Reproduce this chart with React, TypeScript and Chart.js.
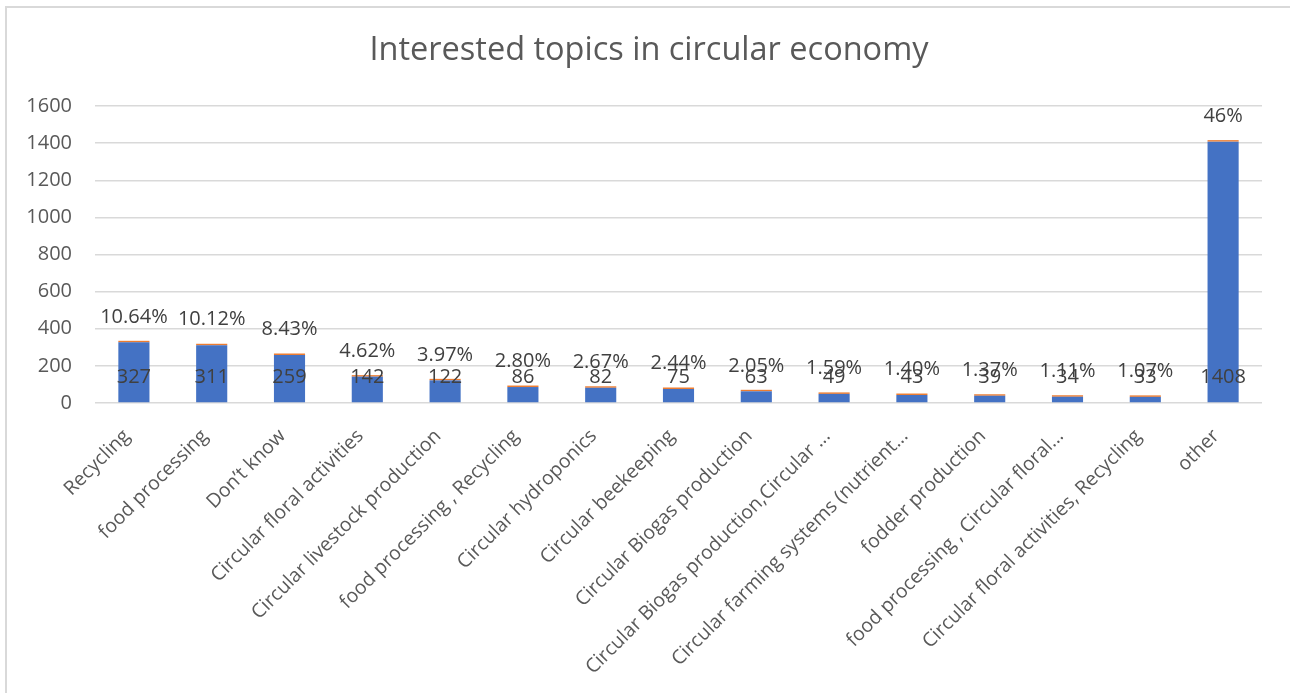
import React, { useEffect, useRef } from "react";
import { Chart, registerables } from "chart.js";

Chart.register(...registerables);

const chartTitle = "Interested topics in circular economy";

const categories = [
  "Recycling",
  "food processing",
  "Don’t know",
  "Circular floral activities",
  "Circular livestock production",
  "food processing , Recycling",
  "Circular hydroponics",
  "Circular beekeeping",
  "Circular Biogas production",
  "Circular Biogas production,Circular ...",
  "Circular farming systems (nutrient...",
  "fodder production",
  "food processing , Circular floral...",
  "Circular floral activities, Recycling",
  "other",
];

const counts = [327, 311, 259, 142, 122, 86, 82, 75, 63, 49, 43, 39, 34, 33, 1408];
const shares = [0.1064, 0.1012, 0.0843, 0.0462, 0.0397, 0.028, 0.0267, 0.0244, 0.0205, 0.0159, 0.014, 0.0137, 0.0111, 0.0107, 0.46];
const shareLabels = [
  "10.64%", "10.12%", "8.43%", "4.62%", "3.97%", "2.80%", "2.67%", "2.44%",
  "2.05%", "1.59%", "1.40%", "1.37%", "1.11%", "1.07%", "46%",
];
const yTicks = [0, 200, 400, 600, 800, 1000, 1200, 1400, 1600];

const FONT = "'Open Sans', 'Noto Sans', sans-serif";

const labelPlugin = {
  id: "barLabels",
  afterDatasetsDraw(chart: any) {
    const ctx = chart.ctx;
    const m0 = chart.getDatasetMeta(0);
    const m1 = chart.getDatasetMeta(1);
    ctx.save();
    ctx.font = `20px ${FONT}`;
    ctx.fillStyle = "#404040";
    ctx.textAlign = "center";
    ctx.textBaseline = "middle";
    m0.data.forEach((bar: any, i: number) => {
      ctx.fillText(String(counts[i]), bar.x, bar.base - 25);
    });
    m1.data.forEach((bar: any, i: number) => {
      ctx.fillText(shareLabels[i], bar.x, bar.y - 24);
    });
    // title
    ctx.font = `32.5px ${FONT}`;
    ctx.fillStyle = "#595959";
    ctx.textAlign = "center";
    ctx.textBaseline = "alphabetic";
    ctx.fillText(chartTitle, 643, 52);
    // category labels, rotated 45 degrees
    const xs = chart.scales.x;
    ctx.font = `19.5px ${FONT}`;
    ctx.fillStyle = "#595959";
    ctx.textAlign = "right";
    ctx.textBaseline = "middle";
    categories.forEach((c, i) => {
      const x = xs.getPixelForTick(i);
      ctx.save();
      ctx.translate(x - 7, xs.top + 30);
      ctx.rotate(-Math.PI / 4);
      ctx.fillText(c, 0, 0);
      ctx.restore();
    });
    ctx.restore();
  },
};

export default function App() {
  const ref = useRef<HTMLCanvasElement>(null);
  useEffect(() => {
    if (!ref.current) return;
    const chart = new Chart(ref.current, {
      type: "bar",
      data: {
        labels: categories,
        datasets: [
          {
            label: "Count",
            data: counts,
            backgroundColor: "#4472C4",
            barPercentage: 0.4,
            categoryPercentage: 1,
          },
          {
            label: "Share",
            data: shares,
            backgroundColor: "#ED7D31",
            barPercentage: 0.4,
            categoryPercentage: 1,
            minBarLength: 1.5,
          },
        ],
      },
      options: {
        animation: false,
        responsive: false,
        maintainAspectRatio: false,
        layout: { padding: { left: 0, right: 28, top: 98, bottom: 0 } },
        plugins: {
          legend: { display: false },
          tooltip: { enabled: false },
          title: { display: false },
        },
        scales: {
          x: {
            stacked: true,
            grid: { display: false },
            border: { display: false },
            afterFit: (axis: any) => {
              axis.height = 292;
            },
            ticks: { display: false },
          },
          y: {
            stacked: true,
            min: 0,
            max: 1600,
            afterBuildTicks: (axis: any) => {
              axis.ticks = yTicks.map((v) => ({ value: v }));
            },
            afterFit: (axis: any) => {
              axis.width = 89;
            },
            grid: { color: "#d9d9d9", lineWidth: 1.5, drawTicks: false },
            border: { display: false },
            ticks: {
              color: "#595959",
              font: { family: FONT, size: 20 },
              padding: 23,
              callback: (v: any) => String(v),
            },
          },
        },
      },
      plugins: [labelPlugin],
    });
    return () => chart.destroy();
  }, []);

  return (
    <div
      style={{
        position: "fixed",
        left: 0,
        top: 0,
        width: 1290,
        height: 693,
        background: "#fff",
      }}
    >
      <div
        style={{
          position: "absolute",
          left: 5,
          top: 6,
          width: 1300,
          height: 700,
          borderLeft: "2px solid #d9d9d9",
          borderTop: "2px solid #d9d9d9",
        }}
      />
      <canvas
        ref={ref}
        width={1284}
        height={687}
        style={{ position: "absolute", left: 6, top: 8, width: 1284, height: 687 }}
      />
    </div>
  );
}
